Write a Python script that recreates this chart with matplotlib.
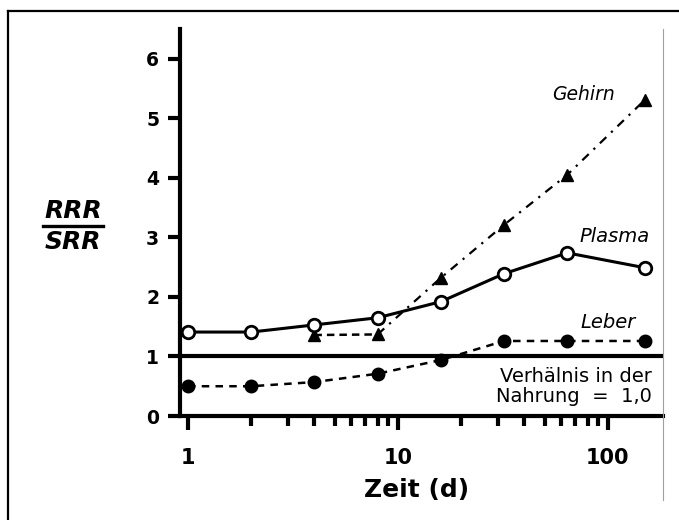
#!/usr/bin/env python3

import matplotlib
matplotlib.use('Agg')
import matplotlib.pyplot as plt
from matplotlib.lines import Line2D
from matplotlib.ticker import FixedLocator, NullFormatter

# time points (days) and RRR/SRR ratios per tissue
days = [1, 2, 4, 8, 16, 32, 64, 150]
plasma = [1.41, 1.41, 1.53, 1.65, 1.92, 2.39, 2.74, 2.49]
leber = [0.50, 0.50, 0.57, 0.71, 0.94, 1.26, 1.26, 1.26]
gehirn_days = [4, 8, 16, 32, 64, 150]
gehirn = [1.36, 1.37, 2.32, 3.21, 4.05, 5.31]

y_ticks = [0, 1, 2, 3, 4, 5, 6]
x_ticks = [1, 10, 100]
x_minor = [2, 3, 4, 5, 6, 7, 8, 9, 20, 30, 40, 50, 60, 70, 80, 90]
ref_ratio = 1.0

W, H = 679, 520


def fx(px):
    return px / W


def fy(py):
    return 1 - py / H


plt.rcParams['font.family'] = ['DejaVu Sans']

fig = plt.figure(figsize=(W / 100, H / 100), dpi=100)
ax = fig.add_axes([fx(180), fy(416), fx(663) - fx(180), fy(29) - fy(416)])

ax.set_xscale('log')
ax.set_xlim(0.916, 183)
ax.set_ylim(0, 6.5)

# reference line: ratio in the diet
ax.axhline(ref_ratio, color='black', lw=3.0, zorder=2)

# Leber: dashed, filled circles
ax.plot(days, leber, color='black', lw=1.8, ls=(0, (3, 2.5)), zorder=3)
ax.plot(days, leber, ls='none', marker='o', ms=9, mfc='black', mec='black', zorder=5)

# Gehirn: dashed first step, dash-dot afterwards
ax.plot(gehirn_days[:2], gehirn[:2], color='black', lw=1.8, ls=(0, (3, 2)), zorder=3)
ax.plot(gehirn_days[1:], gehirn[1:], color='black', lw=1.6, ls=(0, (4, 3, 1, 3)), zorder=3)
ax.plot(gehirn_days, gehirn, ls='none', marker='^', ms=9, mfc='black', mec='black', zorder=5)

# Plasma: solid, open circles
ax.plot(days, plasma, color='black', lw=2.2, zorder=4)
ax.plot(days, plasma, ls='none', marker='o', ms=9, mfc='white', mec='black', mew=2.0, zorder=6)

for side in ('top', 'right'):
    ax.spines[side].set_visible(False)
for side in ('left', 'bottom'):
    ax.spines[side].set_linewidth(3.0)

ax.xaxis.set_major_locator(FixedLocator(x_ticks))
ax.xaxis.set_minor_locator(FixedLocator(x_minor))
ax.xaxis.set_minor_formatter(NullFormatter())
ax.set_xticklabels([str(t) for t in x_ticks])
ax.yaxis.set_major_locator(FixedLocator(y_ticks))
ax.yaxis.set_minor_locator(FixedLocator([]))

ax.tick_params(axis='x', which='major', direction='out', length=10, width=3,
               labelsize=15, pad=13)
ax.tick_params(axis='x', which='minor', direction='out', length=7, width=3)
ax.tick_params(axis='y', which='major', direction='out', length=9, width=3,
               labelsize=13.5, pad=6)
for lab in ax.get_xticklabels() + ax.get_yticklabels():
    lab.set_fontweight('bold')

fig.text(fx(417), fy(490), 'Zeit (d)', fontsize=18, fontweight='bold',
         ha='center', va='center')

# series labels
fig.text(fx(615), fy(94), 'Gehirn', fontsize=13.5, style='italic', ha='right', va='center')
fig.text(fx(579), fy(237), 'Plasma', fontsize=14, style='italic', ha='left', va='center')
fig.text(fx(580), fy(322), 'Leber', fontsize=14, style='italic', ha='left', va='center')
fig.text(fx(652), fy(376), 'Verhälnis in der', fontsize=14, ha='right', va='center')
fig.text(fx(652), fy(396), 'Nahrung  =  1,0', fontsize=14, ha='right', va='center')

# y label as a fraction
fig.text(fx(73), fy(211), 'RRR', fontsize=18, fontweight='bold', style='italic',
         ha='center', va='center')
fig.text(fx(73), fy(242), 'SRR', fontsize=18, fontweight='bold', style='italic',
         ha='center', va='center')
fig.add_artist(Line2D([fx(43), fx(103)], [fy(226), fy(226)], color='black', lw=2.4))

# frame around the figure
fig.add_artist(Line2D([fx(8), 1.0], [fy(11), fy(11)], color='black', lw=1.6))
fig.add_artist(Line2D([fx(8), fx(8)], [0, fy(11)], color='black', lw=1.6))
fig.add_artist(Line2D([fx(663), fx(663)], [fy(500), fy(29)], color='#a0a0a0', lw=0.8))

fig.savefig('out.png', dpi=100)
